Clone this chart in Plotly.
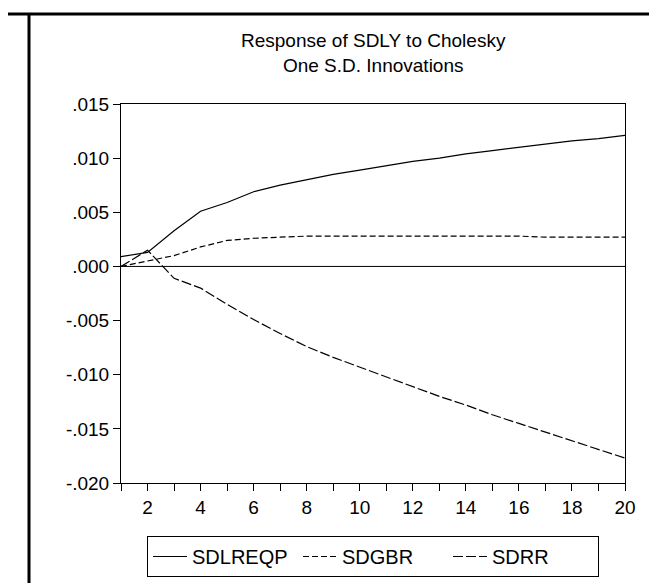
import plotly.graph_objects as go

periods = list(range(1, 21))
sdlreqp = [0.0009, 0.0013, 0.0033, 0.0051, 0.0059, 0.0069, 0.0075, 0.0080, 0.0085, 0.0089,
           0.0093, 0.0097, 0.0100, 0.0104, 0.0107, 0.0110, 0.0113, 0.0116, 0.0118, 0.0121]
sdgbr = [0.0, 0.0005, 0.0010, 0.0018, 0.0024, 0.0026, 0.0027, 0.0028, 0.0028, 0.0028,
         0.0028, 0.0028, 0.0028, 0.0028, 0.0028, 0.0028, 0.0027, 0.0027, 0.0027, 0.0027]
sdrr = [0.0, 0.0015, -0.0011, -0.0020, -0.0035, -0.0049, -0.0062, -0.0074, -0.0084, -0.0093,
        -0.0102, -0.0111, -0.0120, -0.0128, -0.0137, -0.0145, -0.0153, -0.0161, -0.0169, -0.0177]

series_names = ["SDLREQP", "SDGBR", "SDRR"]
ytick_vals = [0.015, 0.010, 0.005, 0.0, -0.005, -0.010, -0.015, -0.020]
ytick_text = [".015", ".010", ".005", ".000", "-.005", "-.010", "-.015", "-.020"]
xtick_vals = periods
xtick_text = [str(p) if p % 2 == 0 else "" for p in periods]
title_lines = ["Response of SDLY to Cholesky", "One S.D. Innovations"]

FONT = "Liberation Sans, Arial, sans-serif"
W, H = 657, 583
L, R, T, B = 113, 40, 96, 108
ph = H - T - B
pw = W - L - R

fig = go.Figure()
styles = [("solid", series_names[0], sdlreqp),
          ("6px,3px", series_names[1], sdgbr),
          ("10px,3px", series_names[2], sdrr)]
for dash, name, vals in styles:
    fig.add_trace(go.Scatter(x=periods, y=vals, mode="lines", name=name,
                             line=dict(color="black", width=1.2, dash=dash)))

# zero line
fig.add_shape(type="line", xref="paper", yref="y", x0=0, x1=1, y0=0, y1=0,
              line=dict(color="black", width=1))

def px_to_paper_x(px):
    return (px - L) / pw
def px_to_paper_y(py):
    return (H - B - py) / ph

# outer frame lines (top and left)
fig.add_shape(type="line", xref="paper", yref="paper",
              x0=px_to_paper_x(0), x1=px_to_paper_x(652),
              y0=px_to_paper_y(6), y1=px_to_paper_y(6),
              line=dict(color="black", width=3))
fig.add_shape(type="line", xref="paper", yref="paper",
              x0=px_to_paper_x(21), x1=px_to_paper_x(21),
              y0=px_to_paper_y(5), y1=px_to_paper_y(583),
              line=dict(color="black", width=3))

fig.add_annotation(text="<br>".join(title_lines), xref="paper", yref="paper",
                   x=0.5, y=px_to_paper_y(45), xanchor="center", yanchor="middle",
                   showarrow=False, font=dict(family=FONT, size=19, color="black"))

fig.update_layout(
    width=W, height=H,
    margin=dict(l=L, r=R, t=T, b=B, pad=0),
    paper_bgcolor="white", plot_bgcolor="white",
    font=dict(family=FONT, size=19, color="black"),
    showlegend=True,
    legend=dict(orientation="h", x=0.5, xanchor="center",
                y=px_to_paper_y(528), yanchor="top",
                bordercolor="black", borderwidth=1,
                font=dict(family=FONT, size=20, color="black"),
                itemwidth=34, entrywidth=101, entrywidthmode="pixels"),
)
fig.update_xaxes(range=[1, 20], tickvals=xtick_vals, ticktext=xtick_text,
                 ticks="outside", ticklen=7, tickcolor="black", tickwidth=1,
                 tickfont=dict(family=FONT, size=19, color="black"),
                 showline=True, linecolor="black", linewidth=1, mirror=True,
                 showgrid=False, zeroline=False)
fig.update_yaxes(range=[-0.020, 0.015], tickvals=ytick_vals, ticktext=ytick_text,
                 ticks="outside", ticklen=7, tickcolor="black", tickwidth=1,
                 tickfont=dict(family=FONT, size=19, color="black"),
                 showline=True, linecolor="black", linewidth=1, mirror=True,
                 showgrid=False, zeroline=False)

fig.write_html("out.html")
